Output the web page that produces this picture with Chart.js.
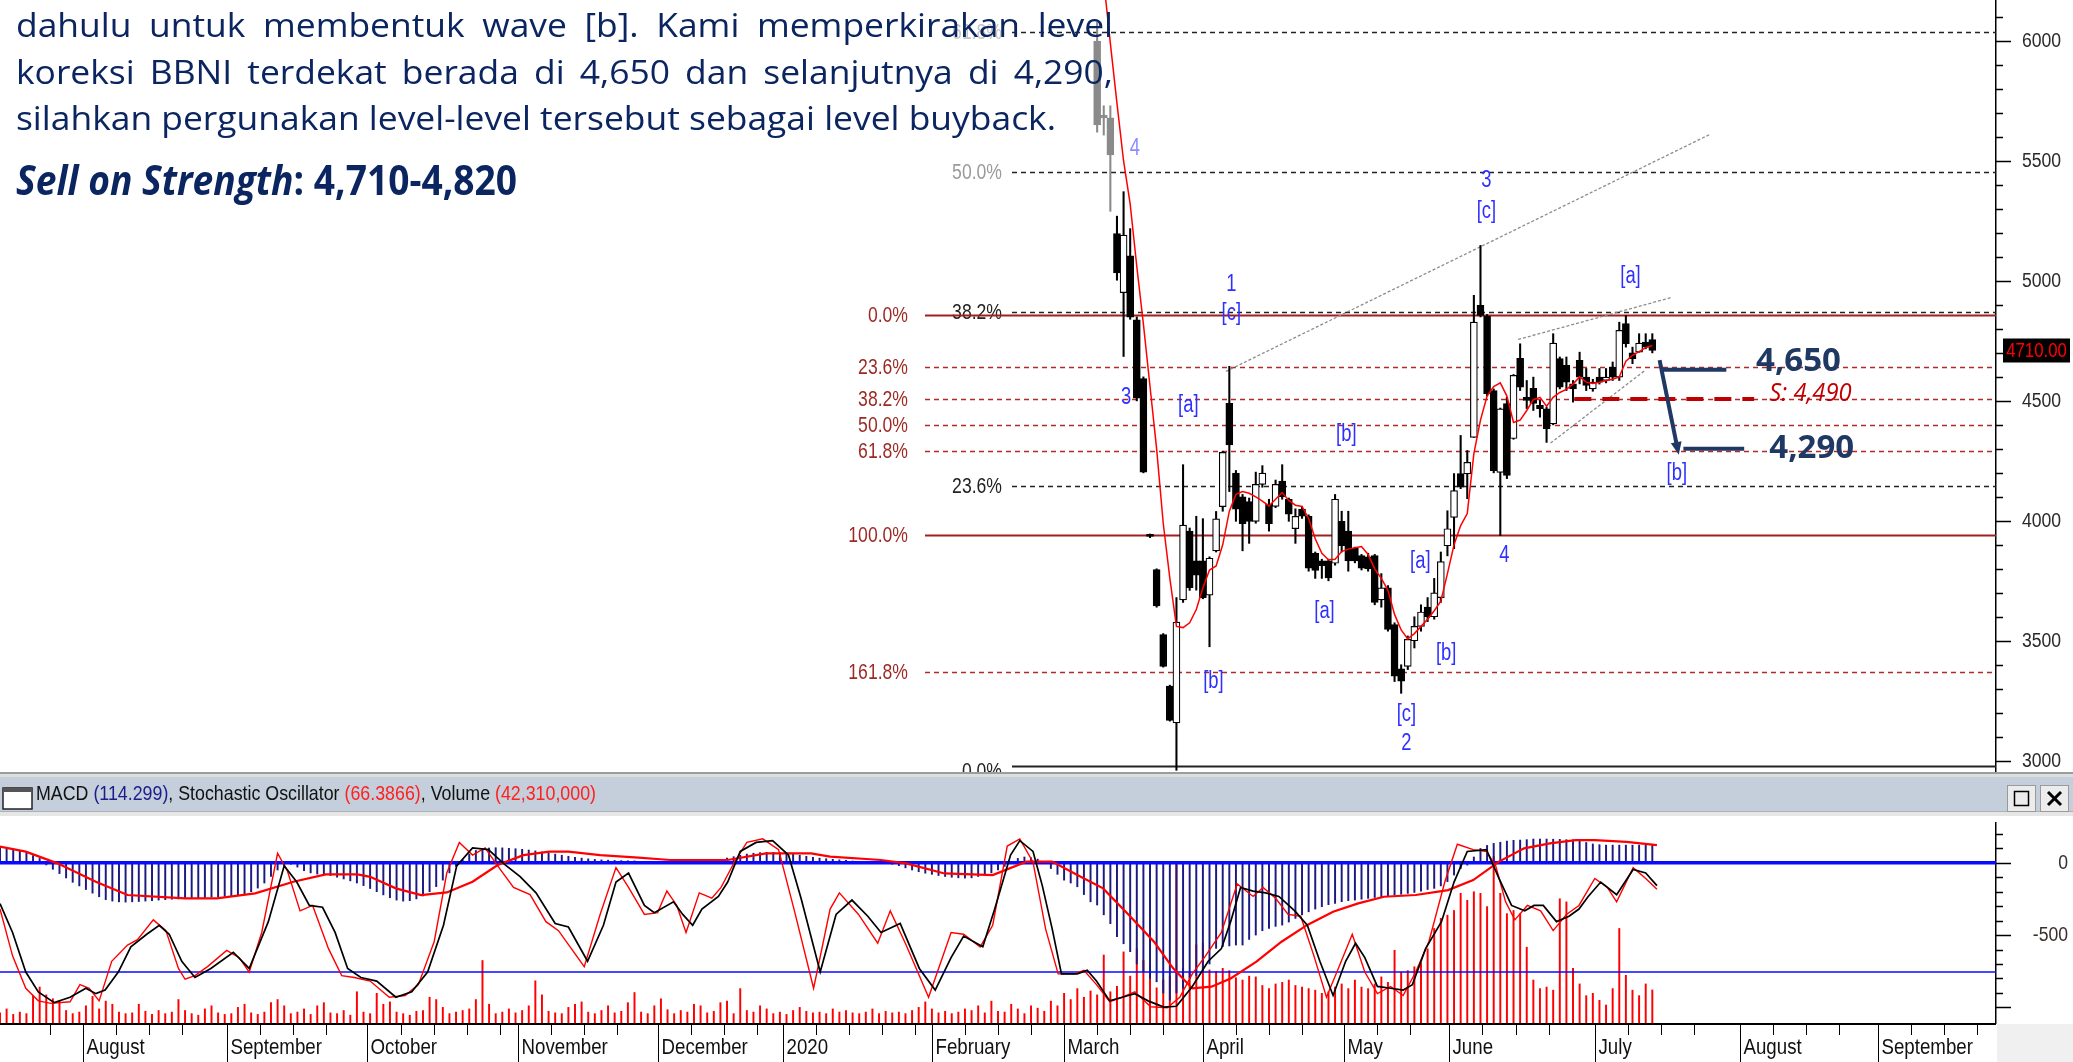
<!DOCTYPE html>
<html>
<head>
<meta charset="utf-8">
<title>BBNI</title>
<script src="https://cdn.jsdelivr.net/npm/chart.js@4.4.1/dist/chart.umd.min.js"></script>
<style>
  html, body { margin: 0; padding: 0; background: #fff; overflow: hidden; }
  #price { position: absolute; left: 0; top: 0; }
  #lower { position: absolute; left: 0; top: 772px; }
</style>
</head>
<body>
<canvas id="price" width="2073" height="772"></canvas>
<canvas id="lower" width="2073" height="290"></canvas>
<script>
(function () {
    'use strict';

    // ---- price data (x = trading-day index) ----
    var firstCandle = 166;
    var openP  = [6000,5690,5680,5197,4951,5105,4838,4593,3935,3797,3526,3311,3158,3670,3957,3833,3833,3690,3875,4059,4490,4199,4100,4080,3998,4152,4070,4060,4166,4090,3967,4049,4019,3865,3833,3833,3823,3998,3957,3885,3855,3850,3855,3670,3721,3567,3383,3393,3500,3560,3640,3600,3680,3896,4014,4197,4196,4348,4898,4853,4543,4202,4489,4343,4677,4515,4552,4481,4467,4404,4676,4648,4571,4669,4599,4550,4599,4585,4641,4599,4822,4700,4703,4745,4755];
    var highP  = [6080,5730,5730,5270,5372,5218,4850,4600,3945,3800,3530,3315,3680,4234,3970,4019,4009,3850,4039,4290,4644,4210,4110,4095,4203,4230,4090,4170,4234,4095,4050,4060,4025,3870,3840,3840,4110,4040,4040,3890,3860,3865,3860,3780,3730,3575,3400,3520,3600,3650,3680,3760,3870,4042,4197,4356,4293,4940,5148,4860,4550,4470,4515,4610,4738,4585,4599,4502,4474,4780,4683,4683,4585,4703,4635,4590,4635,4635,4662,4828,4856,4724,4780,4780,4780];
    var lowP   = [5620,5608,5290,5003,4685,4840,4500,4200,3930,3640,3390,3165,2960,3660,3710,3711,3675,3475,3870,4040,4122,3998,3875,3906,3990,4140,3957,4055,4090,3998,3906,4010,3790,3760,3760,3750,3815,3870,3790,3825,3795,3790,3650,3640,3540,3330,3281,3380,3470,3540,3580,3590,3660,3854,3884,4134,4092,4348,4850,4520,4200,3938,4176,4340,4543,4468,4460,4432,4327,4400,4550,4543,4495,4571,4543,4540,4570,4575,4585,4585,4724,4655,4703,4717,4700];
    var closeP = [5650,5680,5525,5033,5191,4849,4511,4203,3935,3645,3393,3168,3578,3982,3721,3773,3680,3844,4008,4285,4316,4049,3988,3998,4152,4199,3988,4152,4101,4028,4019,4019,3803,3793,3813,3762,4090,3896,3833,3833,3803,3800,3660,3721,3547,3352,3332,3506,3560,3620,3600,3700,3830,3967,4126,4140,4244,4828,4856,4530,4209,4467,4189,4606,4557,4502,4489,4468,4383,4741,4557,4578,4550,4599,4564,4578,4578,4599,4599,4794,4738,4676,4741,4724,4710];
    var maStart = 167;
    var maValues = [6250,5990,5740,5500,5320,5060,4820,4560,4300,3990,3760,3560,3555,3575,3630,3720,3795,3812,3900,4040,4110,4122,4115,4100,4082,4062,4090,4118,4085,4065,4060,4010,3925,3865,3838,3840,3872,3882,3888,3893,3860,3800,3760,3710,3610,3545,3508,3530,3560,3590,3625,3665,3780,3900,3980,4030,4280,4420,4520,4560,4575,4520,4410,4420,4460,4505,4515,4478,4515,4535,4548,4570,4600,4578,4572,4578,4585,4590,4600,4665,4690,4705,4722,4731];

    var redFibValues = [4860, 4643, 4509, 4400, 4291, 3940, 3371];
    var redFibLabels = ['0.0%', '23.6%', '38.2%', '50.0%', '61.8%', '100.0%', '161.8%'];
    var blackFibValues = [6037, 5453, 4869, 4146, 2977];
    var blackFibLabels = ['61.8%', '50.0%', '38.2%', '23.6%', '0.0%'];

    var trendLines = [
        [[185.5, 4623], [258.8, 5612]],
        [[229.7, 4756], [252.9, 4931]],
        [[234.6, 4324], [248.8, 4625]]
    ];
    var waveLabels = [
        ['4', 171.7, 5553], ['1', 186.3, 4986], ['[c]', 186.3, 4865], ['3', 170.4, 4514],
        ['[a]', 179.8, 4481], ['[b]', 203.7, 4360], ['[b]', 183.6, 3329], ['[a]', 200.4, 3621],
        ['[a]', 214.9, 3829], ['[b]', 218.8, 3446], ['[c]', 212.8, 3191], ['2', 212.8, 3070],
        ['3', 224.9, 5416], ['[c]', 224.9, 5290], ['4', 227.6, 3855], ['[a]', 246.7, 5019],
        ['[b]', 253.7, 4197]
    ];
    var targetTexts = [['4,650', 265.7, 4662], ['4,290', 267.7, 4301]];
    var supportText = ['S: 4,490', 267.7, 4531];
    var supportLine = [[238.2, 4508], [265.4, 4508]];
    var arrowLines = [
        [[251.4, 4630], [261.2, 4630]],
        [[254.7, 4300], [263.9, 4300]]
    ];
    var arrowDiag = [[251.1, 4670], [254.0, 4275]];
    var lastPrice = 4710;

    var paraLines = [
        'dahulu untuk membentuk wave [b]. Kami memperkirakan level',
        'koreksi BBNI terdekat berada di 4,650 dan selanjutnya di 4,290,',
        'silahkan pergunakan level-level tersebut sebagai level buyback.'
    ];
    var sellTitle = 'Sell on Strength';
    var sellRange = ': 4,710-4,820';

    // ---- lower panel data ----
    var monthStarts = [12.6, 34.4, 55.6, 78.4, 99.6, 118.4, 141.0, 161.0, 182.0, 203.3, 219.3, 241.3, 263.3, 284.1];
    var monthLabels = ['August', 'September', 'October', 'November', 'December', '2020', 'February', 'March', 'April', 'May', 'June', 'July', 'August', 'September'];

    var volumes = [13,18,11,14,12,35,46,36,31,28,16,12,14,
        22,34,18,28,24,14,12,13,24,15,11,16,12,14,30,16,12,
        10,18,22,13,11,12,20,24,13,11,14,26,30,22,12,14,18,11,22,26,
        13,12,16,10,40,14,12,38,24,27,14,12,10,15,16,33,30,20,12,14,
        16,18,30,80,24,12,14,18,13,16,22,54,36,15,13,12,20,24,27,14,
        12,16,22,13,15,26,39,14,12,22,31,17,12,16,14,24,22,13,15,26,
        28,12,44,16,14,22,18,12,14,11,16,20,15,13,14,12,18,14,16,13,
        12,14,18,12,15,13,14,12,16,20,27,18,13,15,12,14,18,16,22,13,28,15,
        14,24,18,12,22,19,15,28,22,
        38,30,44,33,41,36,87,40,47,91,60,95,80,72,45,55,60,
        204,70,65,100,102,68,66,70,67,58,55,60,59,48,44,50,52,55,48,46,44,42,
        38,40,46,50,44,55,46,44,50,59,52,93,65,67,72,77,95,121,134,138,
        144,166,157,168,166,149,213,166,140,144,140,97,55,44,46,42,159,155,70,50,
        35,38,29,23,44,121,61,42,35,50,42.31];

    var macdHist = [110,105,95,85,70,50,30,
        -15,-45,-75,-105,-135,-160,-185,-210,-235,
        -255,-265,-270,-272,-270,-268,-265,-262,-258,-255,-252,-250,-248,-246,-244,-240,-238,-235,-232,-228,-222,-215,
        -200,-175,-140,-95,-50,-20,-10,
        -30,-55,-70,-78,-82,-88,-100,-112,-125,-140,-158,-178,-200,-222,-242,-258,-265,-262,-250,-230,-200,-165,-120,-70,-25,
        20,60,85,98,102,104,103,100,97,93,88,82,75,68,60,52,45,38,32,27,23,20,18,16,15,14,13,
        10,8,6,5,4,4,5,6,8,10,14,18,24,
        32,42,52,60,66,70,72,72,70,66,60,52,45,38,32,28,24,20,16,12,8,
        5,3,1,-3,-10,-20,-35,
        -50,-62,-72,-80,-88,-95,-100,-104,-106,-104,-95,-85,-70,
        -50,-25,5,30,40,35,25,5,
        -40,-80,-120,-140,-166,-220,-270,-292,-360,-421,-511,-560,-615,-700,-753,-800,-823,-900,-950,-900,
        -869,-800,-780,-753,-700,-592,-580,-575,-569,-569,-530,-500,-470,-454,-440,-431,-410,-385,-360,-339,
        -320,-304,-290,-281,-269,-262,-258,-252,-246,-240,-235,-228,-223,-218,-212,-205,-196,-185,-177,-160,
        -131,-85,-40,-16,
        40,99,120,134,142,150,155,157,160,164,164,164,163,162,160,158,150,140,130,125,122,122,122,122,122,122,122,122];

    var macdSignal = [[0,112],[3.9,77],[8.7,-4],[14.5,-131],[19.3,-223],[28,-246],[32.8,-246],[38.6,-212],[44.4,-131],[49.3,-80],[54.1,-80],[56,-97],[59.9,-177],[63.7,-223],[67.6,-205],[71.5,-131],[75.3,-16],[79.2,53],[83.1,77],[86,77],[90.8,53],[96.6,35],[101.4,19],[110.1,19],[115.9,65],[122.7,65],[125.6,42],[133.3,19],[137.1,-4],[142.9,-74],[150.2,-85],[155.3,8],[159.2,8],[163,-85],[166.9,-177],[170.8,-361],[174.6,-546],[177.5,-730],[180.4,-869],[183.3,-857],[186.2,-800],[190.1,-684],[193.9,-546],[197.8,-430],[201.7,-338],[205.5,-281],[209.4,-235],[214.2,-223],[219.1,-189],[222.9,-120],[226.8,8],[230.6,100],[234.5,134],[238.4,157],[241.3,157],[246.1,145],[250.7,122]];

    var stochK = [[0,55],[1.9,29],[3.9,11],[5.8,4],[7.7,2.6],[10.6,3.5],[12.1,13],[13.5,11],[15,4],[16.9,26],[19.3,35],[20.8,38],[23.2,49],[25.1,43],[27,22],[28,16],[29.5,18],[31.4,23],[34.3,32],[36.2,28],[37.7,20],[39.6,42],[42,86],[43.5,76],[45.4,54],[47.3,57],[49.7,33],[51.7,18],[53.6,17],[56,15],[58.9,6],[61.3,7],[63.3,13],[65.7,37],[67.6,75],[69.5,92],[71.5,85],[73.4,89],[75.3,79],[77.7,67],[80.2,63],[82.6,48],[84.5,43],[88.4,23],[90.8,52],[93.2,78],[95.1,67],[97.5,52],[99.5,53],[100.9,65],[102.4,57],[103.8,42],[105.8,64],[107.7,61],[109.1,67],[111.1,81],[113,92],[115.4,94],[117.8,88],[120.2,54],[123.1,11],[125.6,55],[127,64],[129.9,52],[132.8,36],[134.7,54],[137.1,35],[140.5,6],[143.9,42],[145.8,41],[148.3,34],[150.2,46],[152.4,90],[154.3,94],[156.3,81],[158.2,44],[160.1,19],[162.6,19],[164,21],[165.9,13],[167.9,3.5],[169.8,6],[171.7,9],[174.1,0.7],[176.6,0.2],[178.5,6],[180.4,19],[182.4,29],[184.8,42],[187.2,69],[189.6,62],[191.1,67],[193,61],[194.9,52],[196.8,51],[198.8,29],[200.7,6],[202.6,23],[204.6,41],[206.5,20],[208.4,8],[210.4,12],[212.3,7],[214.2,20],[216.2,37],[218.6,70],[220.5,91],[222.9,88],[224.9,87],[226.3,79],[227.8,59],[229.2,49],[231.1,57],[233.1,54],[235,43],[237,52],[238.9,57],[241.3,72],[243.2,67],[244.6,59],[247.1,78],[249,72],[250.7,66]];

    var stochD = [[0,58],[1.9,42],[3.9,20],[5.8,9],[8.2,3],[10.6,6],[13,11],[14.5,8],[15.9,10],[17.9,20],[19.8,34],[22.2,41],[24.1,46],[25.6,41],[27.5,26],[29.5,17],[31.9,22],[35.3,31],[37.7,22],[40.6,48],[43,79],[44.9,70],[46.8,57],[48.8,56],[50.7,42],[52.6,22],[54.6,17],[57,15],[59.9,6],[62.3,9],[64.7,20],[67.1,46],[69.1,79],[71.5,89],[73.9,88],[76.3,80],[78.7,73],[81.1,64],[84,47],[86,45],[88.9,26],[91.3,46],[93.2,70],[95.1,75],[97.5,57],[99,53],[101.9,59],[103.3,52],[104.8,46],[106.2,55],[108.7,62],[110.1,70],[112,87],[114.4,92],[116.9,93],[119.3,85],[121.2,61],[124.1,20],[126.5,52],[128.9,60],[131.3,51],[133.3,42],[136.2,47],[139.1,22],[141.5,10],[143.9,28],[145.8,40],[148.7,34],[150.5,55],[152.9,85],[154.3,93],[156.3,87],[157.7,68],[159.2,44],[160.6,19],[163,19],[164.5,21],[165.9,15],[167.9,4],[169.8,6],[171.7,8],[173.7,4],[176.1,0.5],[178,1],[180.4,12],[182.8,26],[184.8,33],[186.2,48],[187.7,67],[189.6,65],[191.5,64],[193.5,62],[195.9,54],[197.8,46],[199.7,26],[201.7,7],[203.6,26],[205.1,36],[206.5,28],[208.4,12],[210.4,11],[212.3,10],[213.7,13],[215.7,33],[218.1,48],[220,70],[222,87],[224.9,88],[226.8,72],[228.7,57],[230.7,54],[232.1,57],[233.5,57],[235.5,48],[237.4,51],[238.9,55],[240.3,62],[242.2,70],[244.6,63],[247.1,77],[249,75],[250.7,68]];

    var headerParts = [['MACD ', '#111'], ['(114.299)', '#1c1c8c'], [', Stochastic Oscillator ', '#111'], ['(66.3866)', '#ff2020'], [', Volume ', '#111'], ['(42,310,000)', '#ff2020']];

    // ---- helpers ----
    var X_MAX = 302;
    var NAVY = '#1f3864';
    var AXIS_W = 77;

    function drawText(ctx, s, x, y, font, color, align, sx, base) {
        ctx.save();
        ctx.font = font;
        ctx.fillStyle = color;
        ctx.textBaseline = base || 'middle';
        ctx.textAlign = 'left';
        var w = ctx.measureText(s).width * sx;
        var left = align === 'right' ? x - w : (align === 'center' ? x - w / 2 : x);
        ctx.translate(left, y);
        ctx.scale(sx, 1);
        ctx.fillText(s, 0, 0);
        ctx.restore();
        return w;
    }

    function seg(ctx, x1, y1, x2, y2) {
        ctx.beginPath();
        ctx.moveTo(x1, y1);
        ctx.lineTo(x2, y2);
        ctx.stroke();
    }

    function pts(pairs) {
        return pairs.map(function (p) { return { x: p[0], y: p[1] }; });
    }

    function fixWidth(scale) { scale.width = AXIS_W; }

    // ---- price chart ----
    var wicks = [], bodies = [], maPts = [];
    openP.forEach(function (o, i) {
        wicks.push({ x: firstCandle + i, y: [lowP[i], highP[i]] });
        bodies.push({ x: firstCandle + i, y: [o, closeP[i]] });
    });
    maValues.forEach(function (v, i) { maPts.push({ x: maStart + i, y: v }); });

    function candleFill(ctx) {
        var i = ctx.dataIndex;
        var up = closeP[i] > openP[i];
        if (firstCandle + i < 169) return up ? '#ffffff' : '#8a8a8a';
        return up ? '#ffffff' : '#000000';
    }
    function candleLine(ctx) {
        return firstCandle + ctx.dataIndex < 169 ? '#8a8a8a' : '#000000';
    }

    var fibPlugin = {
        id: 'fib',
        beforeDatasetsDraw: function (chart) {
            var ctx = chart.ctx, y = chart.scales.y, right = chart.chartArea.right;
            ctx.save();
            blackFibValues.forEach(function (v, i) {
                var py = Math.round(y.getPixelForValue(v)) + 0.5;
                var last = i === blackFibValues.length - 1;
                ctx.strokeStyle = '#222';
                ctx.lineWidth = last ? 2 : 1.3;
                ctx.setLineDash(last ? [] : [5, 4]);
                seg(ctx, 1012, py, right, py);
                var col = i === 0 ? '#c4c4c4' : (i === 1 ? '#9a9a9a' : '#222');
                drawText(ctx, blackFibLabels[i], 1002, py + (last ? 5 : 0), '22px "Liberation Sans"', col, 'right', 0.8);
            });
            redFibValues.forEach(function (v, i) {
                var py = Math.round(y.getPixelForValue(v)) + 0.5;
                var solid = redFibLabels[i] === '0.0%' || redFibLabels[i] === '100.0%';
                ctx.strokeStyle = solid ? '#a31f1f' : '#b02a2a';
                ctx.lineWidth = solid ? 2 : 1.3;
                ctx.setLineDash(solid ? [] : [5, 4]);
                seg(ctx, 925, py, right, py);
                drawText(ctx, redFibLabels[i], 908, py, '22px "Liberation Sans"', '#9c2a24', 'right', 0.8);
            });
            ctx.restore();
        }
    };

    var pricePlugin = {
        id: 'priceDecor',
        afterDatasetsDraw: function (chart) {
            var ctx = chart.ctx, xs = chart.scales.x, ys = chart.scales.y, ca = chart.chartArea;
            function X(v) { return xs.getPixelForValue(v); }
            function Y(v) { return ys.getPixelForValue(v); }
            ctx.save();

            // support dashed line
            ctx.strokeStyle = '#c00000';
            ctx.lineWidth = 4;
            ctx.setLineDash([17, 11]);
            seg(ctx, X(supportLine[0][0]), Y(supportLine[0][1]), X(supportLine[1][0]), Y(supportLine[1][1]));
            ctx.setLineDash([]);

            // navy target arrows
            ctx.strokeStyle = NAVY;
            ctx.fillStyle = NAVY;
            ctx.lineWidth = 4;
            arrowLines.forEach(function (l) { seg(ctx, X(l[0][0]), Y(l[0][1]), X(l[1][0]), Y(l[1][1])); });
            var ax1 = X(arrowDiag[0][0]), ay1 = Y(arrowDiag[0][1]), ax2 = X(arrowDiag[1][0]), ay2 = Y(arrowDiag[1][1]);
            seg(ctx, ax1, ay1, ax2 - (ax2 - ax1) * 0.06, ay2 - (ay2 - ay1) * 0.06);
            var ang = Math.atan2(ay2 - ay1, ax2 - ax1);
            ctx.beginPath();
            ctx.moveTo(ax2, ay2);
            ctx.lineTo(ax2 - 14 * Math.cos(ang - 0.4), ay2 - 14 * Math.sin(ang - 0.4));
            ctx.lineTo(ax2 - 14 * Math.cos(ang + 0.4), ay2 - 14 * Math.sin(ang + 0.4));
            ctx.closePath();
            ctx.fill();

            targetTexts.forEach(function (t) {
                drawText(ctx, t[0], X(t[1]), Y(t[2]), 'bold 33px "Open Sans"', NAVY, 'left', 1);
            });
            drawText(ctx, supportText[0], X(supportText[1]), Y(supportText[2]), 'italic 25px "Open Sans"', '#c00000', 'left', 0.95);

            // elliott wave labels
            waveLabels.forEach(function (w) {
                var faded = w[2] > 5400 && w[1] < 180;
                drawText(ctx, w[0], X(w[1]), Y(w[2]), '23px "Liberation Sans"', faded ? '#8c8cff' : '#2f2fff', 'center', 0.8);
            });

            // paragraph text
            ctx.fillStyle = '#0b2560';
            ctx.textBaseline = 'alphabetic';
            ctx.font = '33px "Open Sans"';
            var sx = 1040 / ctx.measureText(paraLines[2]).width;
            var baselines = [37, 84, 130];
            paraLines.forEach(function (line, li) {
                var words = line.split(' ');
                var widths = words.map(function (w) { return ctx.measureText(w).width * sx; });
                var total = widths.reduce(function (a, b) { return a + b; }, 0);
                var gap = li < 2 ? (1113 - 16 - total) / (words.length - 1) : ctx.measureText(' ').width * sx;
                var x = 16;
                words.forEach(function (w, i) {
                    ctx.save();
                    ctx.translate(x, baselines[li]);
                    ctx.scale(sx, 1);
                    ctx.fillText(w, 0, 0);
                    ctx.restore();
                    x += widths[i] + gap;
                });
            });
            ctx.font = 'italic bold 41px "Open Sans"';
            var w1 = ctx.measureText(sellTitle).width;
            ctx.font = 'bold 41px "Open Sans"';
            var w2 = ctx.measureText(sellRange).width;
            var bsx = 501 / (w1 + w2);
            drawText(ctx, sellTitle, 16, 195, 'italic bold 41px "Open Sans"', '#0b2560', 'left', bsx, 'alphabetic');
            drawText(ctx, sellRange, 16 + w1 * bsx, 195, 'bold 41px "Open Sans"', '#0b2560', 'left', bsx, 'alphabetic');

            // right price axis ticks and labels
            ctx.strokeStyle = '#000';
            ctx.lineWidth = 1.5;
            for (var v = 3000; v <= 6100; v += 100) {
                var py = Math.round(Y(v)) + 0.5;
                var major = v % 500 === 0;
                seg(ctx, ca.right, py, ca.right + (major ? 15 : 7), py);
                if (major) drawText(ctx, String(v), 2022, py, '20px "Liberation Sans"', '#2a2a2a', 'left', 0.88);
            }
            var ly = Y(lastPrice);
            ctx.fillStyle = '#000';
            ctx.fillRect(2003, ly - 12, 67, 24);
            drawText(ctx, lastPrice.toFixed(2), 2036.5, ly + 1, '20px "Liberation Sans"', '#ff0000', 'center', 0.84);
            ctx.restore();
        }
    };

    var priceDatasets = [
        { label: 'wick', data: wicks, barThickness: 1.4, backgroundColor: candleLine, grouped: false, order: 5 },
        { label: 'body', data: bodies, barThickness: 7, backgroundColor: candleFill, borderColor: candleLine, borderWidth: 1.2, borderSkipped: false, minBarLength: 2, grouped: false, order: 4 },
        { type: 'line', label: 'ma', data: maPts, borderColor: '#ff0000', borderWidth: 1.5, pointRadius: 0, order: 1 }
    ];
    trendLines.forEach(function (t, i) {
        priceDatasets.push({ type: 'line', label: 'trend' + i, data: pts(t), borderColor: '#8c8c8c', borderWidth: 1.3, borderDash: [3, 2], pointRadius: 0, order: 6 });
    });

    new Chart(document.getElementById('price'), {
        type: 'bar',
        data: { datasets: priceDatasets },
        options: {
            responsive: false,
            animation: false,
            events: [],
            layout: { padding: 0 },
            plugins: { legend: { display: false }, tooltip: { enabled: false } },
            scales: {
                x: { type: 'linear', min: 0, max: X_MAX, offset: false, display: false },
                y: {
                    position: 'right', min: 2953, max: 6171,
                    afterFit: fixWidth,
                    grid: { display: false, drawTicks: false },
                    ticks: { display: false },
                    border: { display: true, color: '#000', width: 1.5 }
                }
            }
        },
        plugins: [fibPlugin, pricePlugin]
    });

    // ---- lower chart (MACD, stochastic, volume) ----
    var lowerPlugin = {
        id: 'lowerDecor',
        beforeDraw: function (chart) {
            var ctx = chart.ctx, W = chart.width;
            ctx.save();
            ctx.fillStyle = '#ffffff';
            ctx.fillRect(0, 0, W, chart.height);
            ctx.fillStyle = '#9c9c9c'; ctx.fillRect(0, 0, W, 2);
            ctx.fillStyle = '#dedede'; ctx.fillRect(0, 2, W, 3);
            ctx.fillStyle = '#c4cfdb'; ctx.fillRect(0, 5, W, 34);
            ctx.fillStyle = '#a9b1ba'; ctx.fillRect(0, 39, W, 1);
            ctx.fillStyle = '#e6e6e6'; ctx.fillRect(0, 40, W, 4);
            // window icon
            ctx.fillStyle = '#fff'; ctx.fillRect(3, 16, 29, 21);
            ctx.strokeStyle = '#222'; ctx.lineWidth = 1.5; ctx.strokeRect(3, 16, 29, 21);
            ctx.fillStyle = '#555'; ctx.fillRect(3, 16, 29, 4);
            // header text
            ctx.font = '21px "Liberation Sans"';
            var full = headerParts.map(function (p) { return p[0]; }).join('');
            var sx = 560 / ctx.measureText(full).width;
            var x = 36;
            headerParts.forEach(function (p) {
                x += drawText(ctx, p[0], x, 22, '21px "Liberation Sans"', p[1], 'left', sx);
            });
            // buttons
            [2007, 2040].forEach(function (bx, i) {
                ctx.fillStyle = '#ececec'; ctx.fillRect(bx, 13, 29, 27);
                ctx.strokeStyle = '#9a9a9a'; ctx.lineWidth = 1; ctx.strokeRect(bx + 0.5, 13.5, 28, 26);
                ctx.strokeStyle = '#000'; ctx.lineWidth = i === 0 ? 1.5 : 3;
                if (i === 0) ctx.strokeRect(bx + 7.5, 19.5, 14, 14);
                else { seg(ctx, bx + 8, 20, bx + 21, 33); seg(ctx, bx + 21, 20, bx + 8, 33); }
            });
            ctx.restore();
        },
        afterDraw: function (chart) {
            var ctx = chart.ctx, xs = chart.scales.x, ys = chart.scales.y, ca = chart.chartArea, H = chart.height;
            ctx.save();
            ctx.fillStyle = '#f0f0f0';
            ctx.fillRect(ca.right + 1, ca.bottom + 1, chart.width - ca.right, H - ca.bottom);
            ctx.strokeStyle = '#000';
            ctx.lineWidth = 2;
            seg(ctx, 0, ca.bottom + 1, ca.right, ca.bottom + 1);
            ctx.lineWidth = 1;
            monthStarts.forEach(function (m, i) {
                var next = i + 1 < monthStarts.length ? monthStarts[i + 1] : X_MAX;
                for (var t = m + 5; t < next - 2; t += 5) {
                    var tx = Math.round(xs.getPixelForValue(t)) + 0.5;
                    seg(ctx, tx, ca.bottom + 1, tx, ca.bottom + 12);
                }
                var mx = Math.round(xs.getPixelForValue(m)) + 0.5;
                seg(ctx, mx, ca.bottom + 1, mx, H);
                drawText(ctx, monthLabels[i], mx + 3, ca.bottom + 25, '22px "Liberation Sans"', '#111', 'left', 0.85);
            });
            var t0 = Math.round(xs.getPixelForValue(monthStarts[0] - 5)) + 0.5;
            seg(ctx, t0, ca.bottom + 1, t0, ca.bottom + 12);
            // right macd axis
            ctx.lineWidth = 1.5;
            for (var v = -1000; v <= 200; v += 100) {
                var py = Math.round(ys.getPixelForValue(v)) + 0.5;
                var major = v % 500 === 0;
                seg(ctx, ca.right, py, ca.right + (major ? 15 : 7), py);
                if (major && v > -1000) drawText(ctx, String(v), 2068, py, '20px "Liberation Sans"', '#3a2f2f', 'right', 0.88);
            }
            ctx.restore();
        }
    };

    var volPts = volumes.map(function (v, i) { return { x: i, y: v }; });
    var histPts = macdHist.map(function (v, i) { return { x: i, y: v }; });

    new Chart(document.getElementById('lower'), {
        type: 'bar',
        data: {
            datasets: [
                { type: 'line', label: 'stochK', data: pts(stochK), yAxisID: 'ys', borderColor: '#ff0000', borderWidth: 1.4, pointRadius: 0, order: 2 },
                { type: 'line', label: 'stochD', data: pts(stochD), yAxisID: 'ys', borderColor: '#000000', borderWidth: 1.7, pointRadius: 0, order: 1 },
                { type: 'line', label: 'signal', data: pts(macdSignal), yAxisID: 'y', borderColor: '#ff0000', borderWidth: 2.2, pointRadius: 0, order: 3 },
                { type: 'line', label: 'zero', data: pts([[0, 0], [X_MAX, 0]]), yAxisID: 'y', borderColor: '#0a0aff', borderWidth: 3.5, pointRadius: 0, order: 4 },
                { type: 'line', label: 'oversold', data: pts([[0, 20], [X_MAX, 20]]), yAxisID: 'ys', borderColor: '#0a0aff', borderWidth: 1.6, pointRadius: 0, order: 4 },
                { label: 'hist', data: histPts, yAxisID: 'y', backgroundColor: '#1a1a80', barThickness: 1.3, grouped: false, order: 5 },
                { label: 'volume', data: volPts, yAxisID: 'yv', backgroundColor: '#ff0000', barThickness: 1.3, grouped: false, order: 6 }
            ]
        },
        options: {
            responsive: false,
            animation: false,
            events: [],
            layout: { padding: { top: 51, bottom: 39, left: 0, right: 0 } },
            plugins: { legend: { display: false }, tooltip: { enabled: false } },
            scales: {
                x: { type: 'linear', min: 0, max: X_MAX, offset: false, display: false },
                y: {
                    position: 'right', min: -1108, max: 275,
                    afterFit: fixWidth,
                    grid: { display: false, drawTicks: false },
                    ticks: { display: false },
                    border: { display: true, color: '#000', width: 1.5 }
                },
                ys: { display: false, min: -8.3, max: 102.8 },
                yv: { display: false, min: 0, max: 256 }
            }
        },
        plugins: [lowerPlugin]
    });
})();
</script>
</body>
</html>
